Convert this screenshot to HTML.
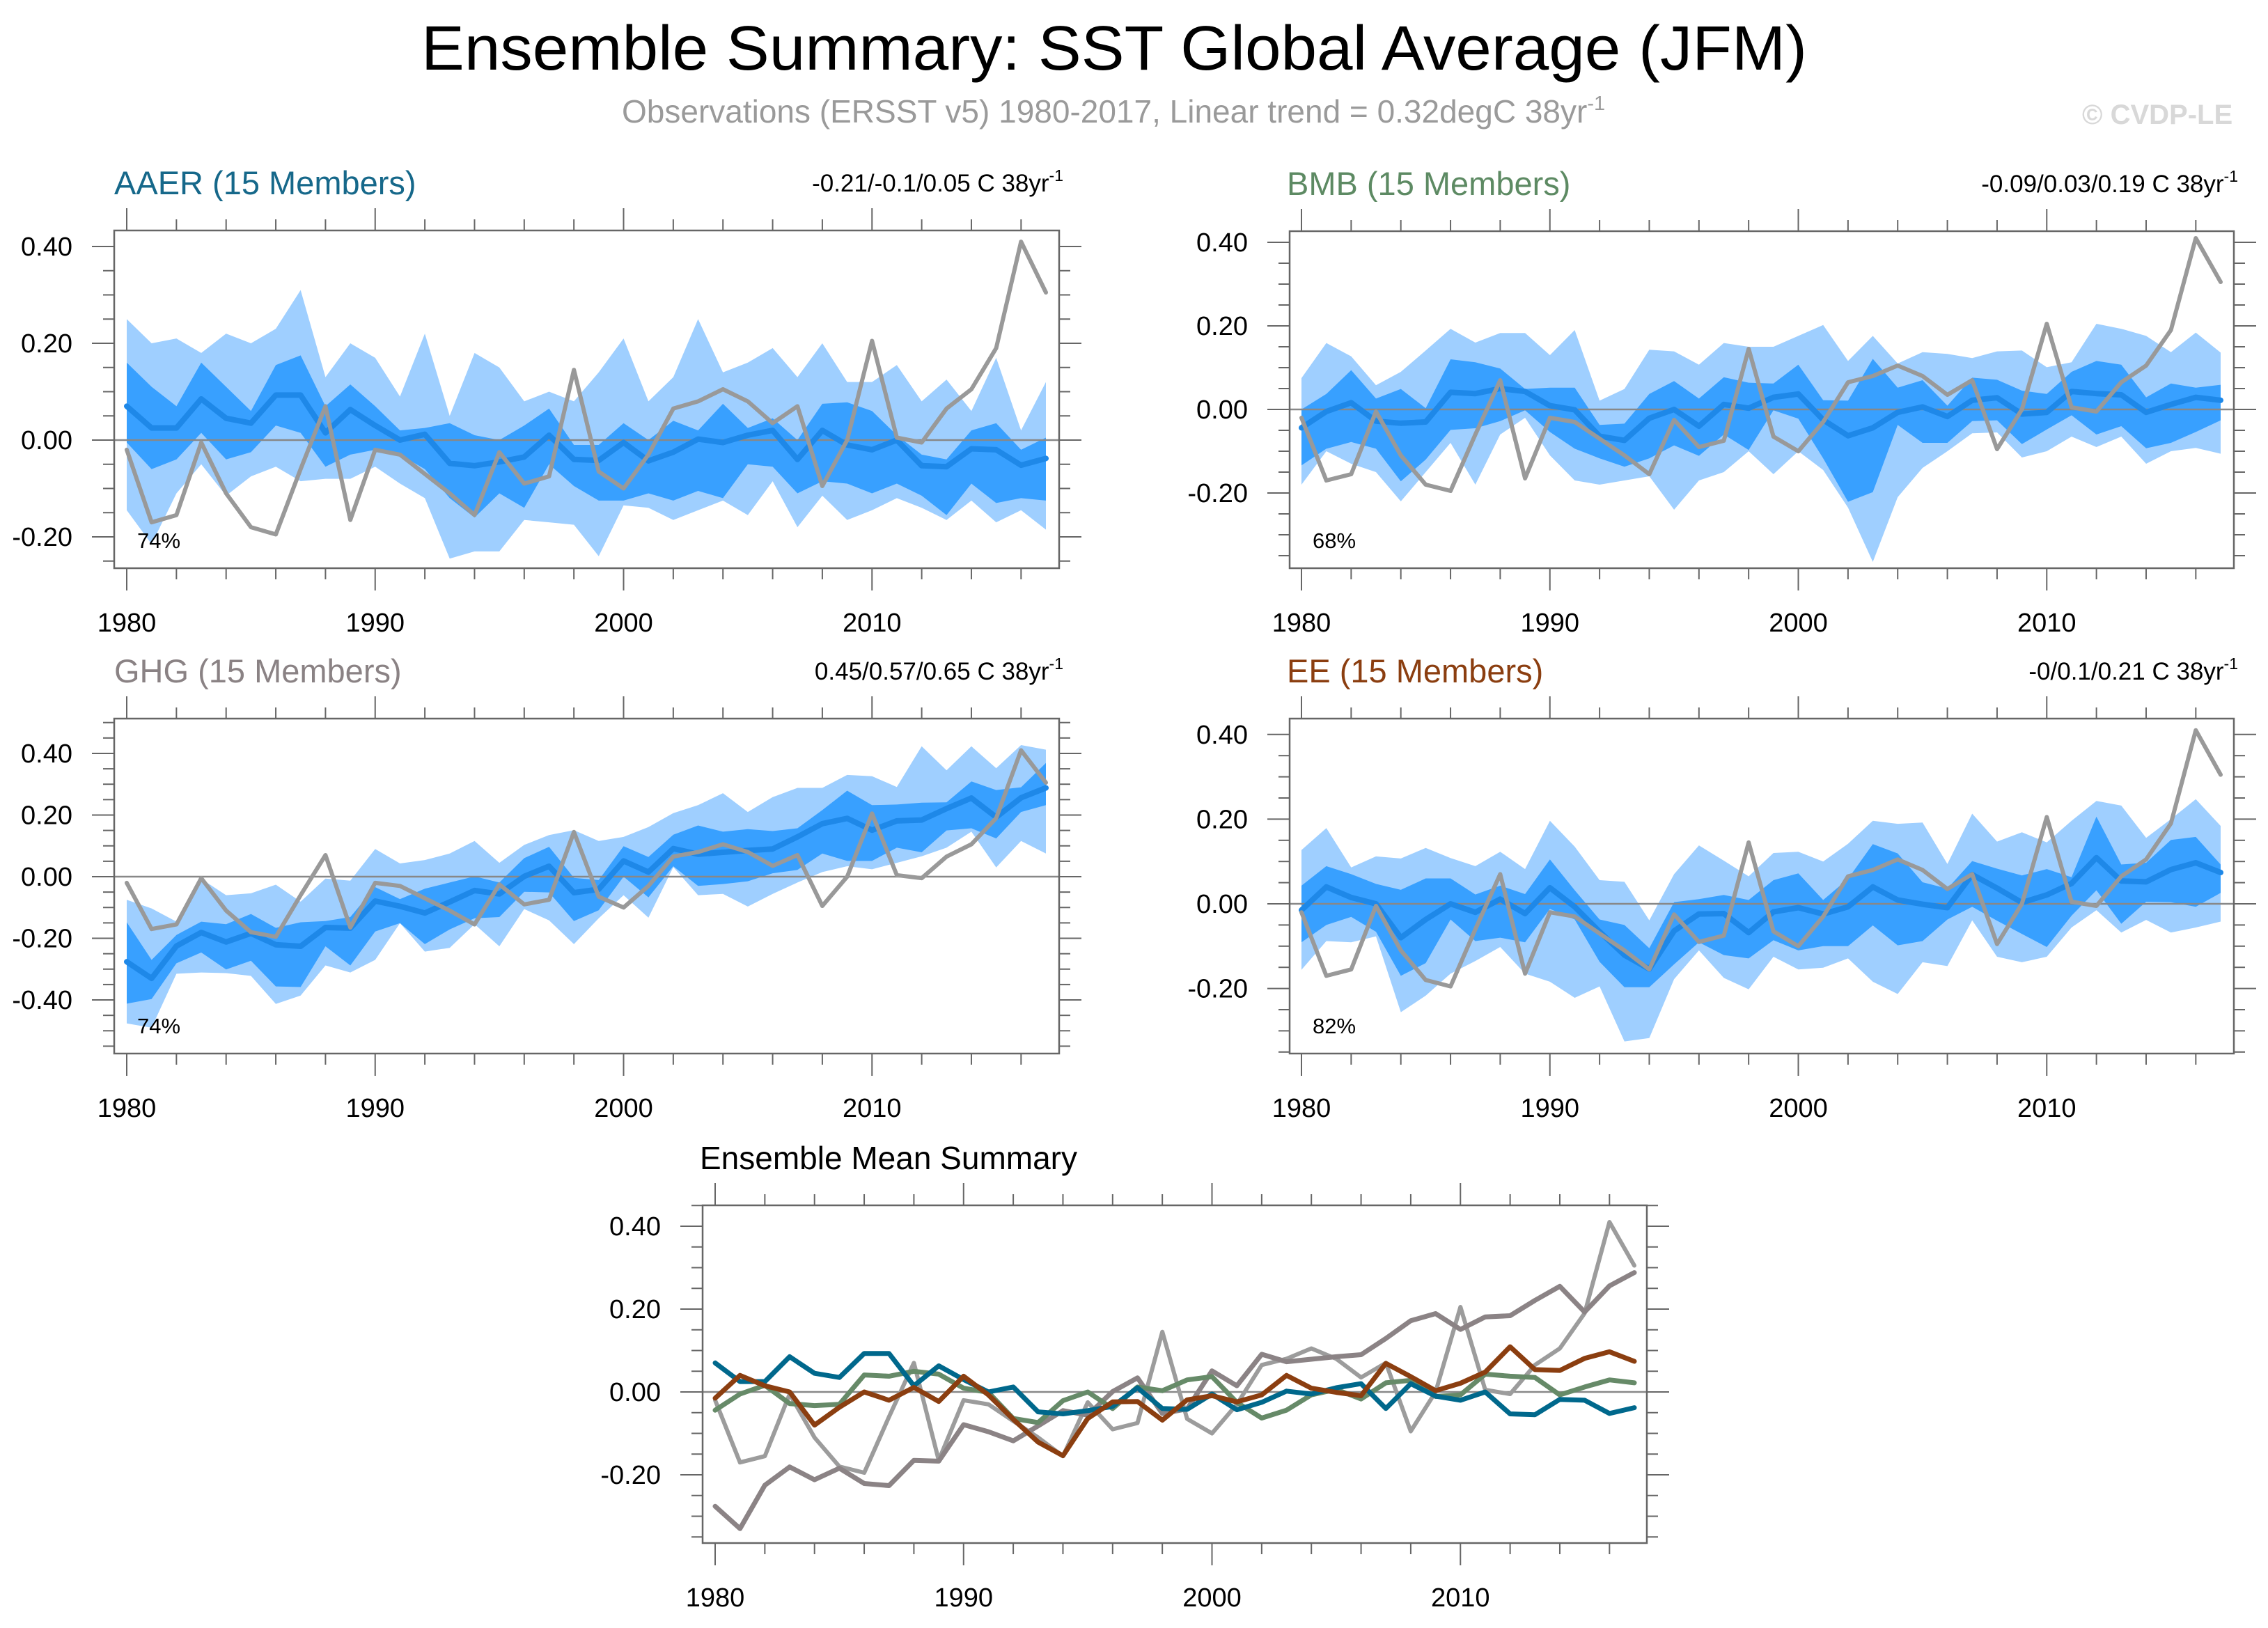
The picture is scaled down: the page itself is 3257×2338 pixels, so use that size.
<!DOCTYPE html>
<html><head><meta charset="utf-8">
<style>
html,body{margin:0;padding:0;background:#fff;}
svg{display:block;font-family:"Liberation Sans",sans-serif;}
</style></head>
<body>
<svg id="chart" width="3257" height="2338" viewBox="0 0 3257 2338" xmlns="http://www.w3.org/2000/svg">
<rect width="3257" height="2338" fill="#fff"/>
<text x="1600" y="100" font-size="90" text-anchor="middle" fill="#000" textLength="1990" lengthAdjust="spacingAndGlyphs">Ensemble Summary: SST Global Average (JFM)</text>
<text x="893" y="176" font-size="46" fill="#9a9a9a">Observations (ERSST v5) 1980-2017, Linear trend = 0.32degC 38yr<tspan font-size="29" dy="-18">-1</tspan></text>
<text x="2990" y="178" font-size="40" font-weight="bold" fill="#d8d8d8">© CVDP-LE</text>
<g id="plots"></g>
</svg>
<script>
const years = [];
for (let y = 1980; y <= 2017; y++) years.push(y);

const obs = [-0.02,-0.17,-0.155,-0.005,-0.11,-0.18,-0.195,-0.06,0.07,-0.165,-0.02,-0.03,-0.07,-0.11,-0.155,-0.025,-0.09,-0.075,0.145,-0.065,-0.1,-0.03,0.065,0.08,0.105,0.08,0.035,0.07,-0.095,0.0,0.205,0.005,-0.005,0.065,0.105,0.19,0.41,0.305];

const aaerMean = [0.07,0.025,0.025,0.085,0.045,0.035,0.093,0.093,0.015,0.063,0.03,0.0,0.012,-0.048,-0.053,-0.045,-0.035,0.01,-0.04,-0.042,-0.005,-0.043,-0.025,0.002,-0.005,0.01,0.02,-0.04,0.02,-0.01,-0.02,0.0,-0.053,-0.055,-0.018,-0.02,-0.052,-0.038];
const aaerDarkHi = [0.16,0.11,0.07,0.16,0.11,0.06,0.155,0.175,0.07,0.115,0.07,0.02,0.025,0.035,0.01,0.0,0.03,0.065,-0.01,-0.01,0.035,0.0,0.04,0.02,0.075,0.025,0.045,0.0,0.075,0.078,0.06,0.01,-0.03,-0.04,0.02,0.035,-0.02,0.005];
const aaerDarkLo = [-0.005,-0.06,-0.04,0.015,-0.04,-0.025,0.03,0.015,-0.055,-0.03,-0.02,-0.03,-0.06,-0.12,-0.16,-0.11,-0.14,-0.05,-0.095,-0.125,-0.125,-0.11,-0.125,-0.105,-0.12,-0.05,-0.055,-0.11,-0.085,-0.09,-0.11,-0.09,-0.115,-0.155,-0.09,-0.13,-0.12,-0.125];
const aaerLightHi = [0.25,0.2,0.21,0.18,0.22,0.2,0.23,0.31,0.13,0.2,0.17,0.09,0.22,0.05,0.18,0.15,0.08,0.1,0.08,0.14,0.21,0.08,0.13,0.25,0.14,0.16,0.19,0.13,0.2,0.12,0.12,0.155,0.08,0.125,0.06,0.17,0.02,0.12];
const aaerLightLo = [-0.145,-0.215,-0.11,-0.05,-0.115,-0.075,-0.055,-0.085,-0.08,-0.08,-0.055,-0.09,-0.12,-0.245,-0.23,-0.23,-0.165,-0.17,-0.175,-0.24,-0.135,-0.14,-0.165,-0.145,-0.125,-0.155,-0.085,-0.18,-0.115,-0.165,-0.145,-0.12,-0.14,-0.165,-0.125,-0.17,-0.145,-0.185];

const bmbMean = [-0.044,-0.005,0.016,-0.028,-0.033,-0.03,0.041,0.038,0.05,0.043,0.009,-0.001,-0.064,-0.074,-0.021,0.0,-0.04,0.012,0.003,0.029,0.037,-0.025,-0.063,-0.044,-0.007,0.006,-0.017,0.022,0.028,-0.011,-0.007,0.043,0.038,0.035,-0.007,0.012,0.029,0.022];
const bmbDarkHi = [0.0,0.037,0.094,0.026,0.049,0.003,0.12,0.113,0.098,0.049,0.052,0.052,-0.037,-0.034,0.037,0.068,0.026,0.077,0.064,0.062,0.107,0.022,0.021,0.121,0.052,0.07,0.009,0.076,0.071,0.045,0.037,0.09,0.116,0.107,0.029,0.062,0.052,0.059];
const bmbDarkLo = [-0.134,-0.094,-0.078,-0.094,-0.172,-0.12,-0.049,-0.045,-0.028,-0.002,-0.054,-0.094,-0.117,-0.137,-0.117,-0.086,-0.111,-0.06,-0.097,-0.002,-0.022,-0.117,-0.221,-0.198,-0.037,-0.08,-0.08,-0.028,-0.026,-0.083,-0.048,-0.014,-0.06,-0.04,-0.093,-0.08,-0.054,-0.026];
const bmbLightHi = [0.075,0.159,0.127,0.058,0.09,0.141,0.193,0.16,0.183,0.183,0.13,0.19,0.021,0.049,0.143,0.139,0.107,0.159,0.15,0.15,0.176,0.202,0.116,0.176,0.11,0.137,0.133,0.123,0.139,0.141,0.101,0.113,0.205,0.193,0.176,0.137,0.184,0.136];
const bmbLightLo = [-0.18,-0.1,-0.13,-0.15,-0.22,-0.15,-0.08,-0.18,-0.06,-0.02,-0.11,-0.17,-0.18,-0.17,-0.16,-0.24,-0.17,-0.15,-0.1,-0.155,-0.1,-0.145,-0.235,-0.365,-0.21,-0.14,-0.1,-0.057,-0.055,-0.115,-0.1,-0.065,-0.09,-0.065,-0.13,-0.1,-0.092,-0.106];

const ghgMean = [-0.276,-0.33,-0.225,-0.181,-0.212,-0.184,-0.221,-0.226,-0.165,-0.167,-0.079,-0.096,-0.118,-0.082,-0.045,-0.056,0.001,0.034,-0.052,-0.041,0.051,0.015,0.091,0.073,0.079,0.085,0.09,0.129,0.172,0.189,0.151,0.181,0.184,0.221,0.255,0.193,0.256,0.288];
const ghgDarkHi = [-0.148,-0.27,-0.189,-0.146,-0.154,-0.121,-0.166,-0.148,-0.144,-0.131,-0.034,-0.073,-0.039,-0.019,0.001,-0.019,0.06,0.097,-0.004,-0.011,0.099,0.064,0.136,0.166,0.146,0.154,0.148,0.157,0.216,0.279,0.232,0.234,0.24,0.241,0.309,0.281,0.29,0.369];
const ghgDarkLo = [-0.412,-0.397,-0.281,-0.246,-0.301,-0.273,-0.356,-0.358,-0.226,-0.288,-0.178,-0.151,-0.219,-0.171,-0.135,-0.131,-0.049,-0.051,-0.144,-0.109,0.0,-0.067,0.034,-0.03,-0.024,-0.015,0.011,0.022,0.075,0.051,0.051,0.094,0.079,0.15,0.157,0.124,0.21,0.232];
const ghgLightHi = [-0.075,-0.103,-0.146,-0.007,-0.06,-0.054,-0.026,-0.081,-0.006,-0.013,0.09,0.043,0.054,0.075,0.116,0.045,0.103,0.135,0.151,0.116,0.129,0.161,0.206,0.232,0.271,0.21,0.258,0.288,0.288,0.33,0.326,0.291,0.423,0.345,0.423,0.352,0.427,0.412];
const ghgLightLo = [-0.476,-0.49,-0.315,-0.311,-0.313,-0.322,-0.413,-0.386,-0.288,-0.311,-0.27,-0.151,-0.243,-0.231,-0.154,-0.226,-0.105,-0.142,-0.219,-0.135,-0.06,-0.133,0.031,-0.06,-0.056,-0.097,-0.056,-0.019,0.015,0.034,0.024,0.045,0.066,0.094,0.146,0.03,0.116,0.075];

const eeMean = [-0.015,0.04,0.015,0.0,-0.08,-0.037,0.0,-0.02,0.011,-0.023,0.038,-0.007,-0.066,-0.121,-0.154,-0.064,-0.024,-0.023,-0.068,-0.019,-0.009,-0.024,-0.007,0.04,0.009,-0.001,-0.009,0.069,0.037,0.003,0.021,0.048,0.109,0.054,0.052,0.081,0.097,0.074];
const eeDarkHi = [0.043,0.089,0.07,0.047,0.033,0.06,0.06,0.022,0.043,0.023,0.105,0.032,-0.037,-0.05,-0.105,0.004,0.011,0.021,0.009,0.056,0.072,0.009,0.059,0.141,0.119,0.051,0.036,0.101,0.083,0.067,0.082,0.063,0.206,0.093,0.097,0.151,0.158,0.093];
const eeDarkLo = [-0.091,-0.05,-0.031,-0.066,-0.17,-0.14,-0.037,-0.088,-0.08,-0.091,-0.012,-0.037,-0.137,-0.197,-0.197,-0.143,-0.091,-0.121,-0.129,-0.086,-0.11,-0.1,-0.1,-0.051,-0.098,-0.088,-0.037,-0.007,-0.04,-0.071,-0.102,-0.028,0.032,-0.047,0.005,0.004,-0.007,0.026];
const eeLightHi = [0.127,0.179,0.086,0.112,0.107,0.132,0.108,0.089,0.123,0.082,0.196,0.135,0.056,0.052,-0.039,0.07,0.138,0.102,0.065,0.12,0.123,0.1,0.142,0.196,0.189,0.192,0.094,0.213,0.147,0.169,0.145,0.196,0.243,0.232,0.156,0.2,0.247,0.184];
const eeLightLo = [-0.156,-0.088,-0.091,-0.077,-0.256,-0.217,-0.165,-0.135,-0.102,-0.165,-0.184,-0.222,-0.195,-0.325,-0.317,-0.178,-0.11,-0.175,-0.202,-0.125,-0.155,-0.151,-0.129,-0.184,-0.213,-0.138,-0.147,-0.039,-0.125,-0.138,-0.125,-0.056,-0.015,-0.068,-0.038,-0.068,-0.056,-0.042];

const decadeLabels = ["1980","1990","2000","2010"];

const NS = "http://www.w3.org/2000/svg";
const root = document.getElementById("plots");
function mk(tag, attrs, parent) {
  const e = document.createElementNS(NS, tag);
  for (const k in attrs) e.setAttribute(k, attrs[k]);
  (parent || root).appendChild(e);
  return e;
}

function drawPanel(cfg) {
  const g = mk("g", {});
  
  
  const x = yr => cfg.x0 + (yr - 1980) * (cfg.x1 - cfg.x0) / 37;
  const y = v => cfg.yZero - v * cfg.yScale;
  const vmax = (cfg.yZero - cfg.top) / cfg.yScale, vmin = (cfg.yZero - cfg.bottom) / cfg.yScale;

  function band(hi, lo, color, nm) {
    let d = "";
    hi.forEach((v, i) => { d += (i ? "L" : "M") + x(years[i]).toFixed(1) + "," + y(v).toFixed(1); });
    for (let i = lo.length - 1; i >= 0; i--) d += "L" + x(years[i]).toFixed(1) + "," + y(lo[i]).toFixed(1);
    const p = mk("path", { d: d + "Z", fill: color }, g);
    
    
  }
  function line(vals, color, w, nm) {
    const pts = vals.map((v, i) => x(years[i]).toFixed(1) + "," + y(v).toFixed(1)).join(" ");
    const p = mk("polyline", { points: pts, fill: "none", stroke: color, "stroke-width": w, "stroke-linejoin": "round", "stroke-linecap": "round" }, g);
    
    
  }
  if (cfg.lightHi) band(cfg.lightHi, cfg.lightLo, "#9fcfff", cfg.name + "-range-band");
  if (cfg.darkHi) band(cfg.darkHi, cfg.darkLo, "#38a0ff", cfg.name + "-iqr-band");
  const zl = mk("line", { x1: cfg.left, x2: cfg.right, y1: y(0), y2: y(0), stroke: "#888", "stroke-width": 2.5 }, g);
  
  
  (cfg.lines || []).forEach(l => line(l.vals, l.color, l.w, l.nm));

  const fr = mk("rect", { x: cfg.left, y: cfg.top, width: cfg.right - cfg.left, height: cfg.bottom - cfg.top, fill: "none", stroke: "#666", "stroke-width": 2.5 }, g);
  
  

  for (let yr = 1980; yr <= 2016; yr += 2) {
    const major = (yr % 10 === 0);
    const L = major ? 32 : 16, xx = x(yr);
    mk("line", { x1: xx, x2: xx, y1: cfg.bottom, y2: cfg.bottom + L, stroke: "#666", "stroke-width": 2 }, g);
    mk("line", { x1: xx, x2: xx, y1: cfg.top, y2: cfg.top - L, stroke: "#666", "stroke-width": 2 }, g);
  }
  decadeLabels.forEach(lab => {
    const t = mk("text", { x: x(+lab), y: cfg.bottom + 91, "font-size": 38, "text-anchor": "middle", fill: "#000" }, g);
    t.textContent = lab;
    
    
  });
  for (let k = Math.ceil(vmin / 0.05 - 1e-6); k * 0.05 <= vmax + 1e-9; k++) {
    const v = k * 0.05, yy = y(v);
    const major = (k % 4 === 0);
    const L = major ? 32 : 16;
    mk("line", { x1: cfg.left, x2: cfg.left - L, y1: yy, y2: yy, stroke: "#666", "stroke-width": 2 }, g);
    mk("line", { x1: cfg.right, x2: cfg.right + L, y1: yy, y2: yy, stroke: "#666", "stroke-width": 2 }, g);
    if (major) {
      const t = mk("text", { x: cfg.left - 60, y: yy + 13, "font-size": 38, "text-anchor": "end", fill: "#000" }, g);
      t.textContent = v.toFixed(2);
      
      
    }
  }
  const tt = mk("text", { x: cfg.left + (cfg.titleDx || 0), y: cfg.top - 52, "font-size": cfg.titleSize || 47, fill: cfg.titleColor }, g);
  tt.textContent = cfg.title;
  
  
  if (cfg.trend) {
    const tr = mk("text", { x: cfg.right + 6, y: cfg.top - 56, "font-size": 35, "text-anchor": "end", fill: "#000" }, g);
    tr.textContent = cfg.trend;
    const sup = mk("tspan", { "font-size": 23, dy: -15 }, tr);
    sup.textContent = "-1";
    
    
  }
  if (cfg.pct) {
    const pt = mk("text", { x: cfg.left + 33, y: cfg.bottom - 29, "font-size": 31, fill: "#000" }, g);
    pt.textContent = cfg.pct;
    
    
  }
}

const MEANC = "#1e88e8", OBSC = "#999999";
drawPanel({ name: "aaer", left: 164, right: 1521, top: 331, bottom: 816, x0: 182, x1: 1502, yZero: 632, yScale: 695,
  title: "AAER (15 Members)", titleColor: "#16688a", trend: "-0.21/-0.1/0.05 C 38yr", pct: "74%",
  lightHi: aaerLightHi, lightLo: aaerLightLo, darkHi: aaerDarkHi, darkLo: aaerDarkLo,
  lines: [{ vals: aaerMean, color: MEANC, w: 8, nm: "aaer-ensemble-mean-line" }, { vals: obs, color: OBSC, w: 6, nm: "aaer-observed-line" }] });
drawPanel({ name: "bmb", left: 1852, right: 3208, top: 332, bottom: 816, x0: 1869, x1: 3189, yZero: 588, yScale: 600,
  title: "BMB (15 Members)", titleColor: "#5d8a63", titleDx: -4, trend: "-0.09/0.03/0.19 C 38yr", pct: "68%",
  lightHi: bmbLightHi, lightLo: bmbLightLo, darkHi: bmbDarkHi, darkLo: bmbDarkLo,
  lines: [{ vals: bmbMean, color: MEANC, w: 8, nm: "bmb-ensemble-mean-line" }, { vals: obs, color: OBSC, w: 6, nm: "bmb-observed-line" }] });
drawPanel({ name: "ghg", left: 164, right: 1521, top: 1032, bottom: 1513, x0: 182, x1: 1502, yZero: 1259, yScale: 442.6,
  title: "GHG (15 Members)", titleColor: "#8a8284", trend: "0.45/0.57/0.65 C 38yr", pct: "74%",
  lightHi: ghgLightHi, lightLo: ghgLightLo, darkHi: ghgDarkHi, darkLo: ghgDarkLo,
  lines: [{ vals: ghgMean, color: MEANC, w: 8, nm: "ghg-ensemble-mean-line" }, { vals: obs, color: OBSC, w: 6, nm: "ghg-observed-line" }] });
drawPanel({ name: "ee", left: 1852, right: 3208, top: 1032, bottom: 1513, x0: 1869, x1: 3189, yZero: 1298, yScale: 608,
  title: "EE (15 Members)", titleColor: "#8b3e10", titleDx: -4, trend: "-0/0.1/0.21 C 38yr", pct: "82%",
  lightHi: eeLightHi, lightLo: eeLightLo, darkHi: eeDarkHi, darkLo: eeDarkLo,
  lines: [{ vals: eeMean, color: MEANC, w: 8, nm: "ee-ensemble-mean-line" }, { vals: obs, color: OBSC, w: 6, nm: "ee-observed-line" }] });
drawPanel({ name: "ensemble-mean-summary", left: 1009, right: 2365, top: 1731, bottom: 2216, x0: 1027, x1: 2347, yZero: 1999, yScale: 595,
  title: "Ensemble Mean Summary", titleColor: "#000", titleDx: -4, titleSize: 46,
  lines: [
    { vals: obs, color: "#9c9c9c", w: 6, nm: "summary-observed-line" },
    { vals: ghgMean, color: "#8b8385", w: 7, nm: "summary-ghg-line" },
    { vals: bmbMean, color: "#668a68", w: 7, nm: "summary-bmb-line" },
    { vals: aaerMean, color: "#00688c", w: 7, nm: "summary-aaer-line" },
    { vals: eeMean, color: "#8b3e10", w: 7, nm: "summary-ee-line" }
  ] });
</script>
</body></html>
